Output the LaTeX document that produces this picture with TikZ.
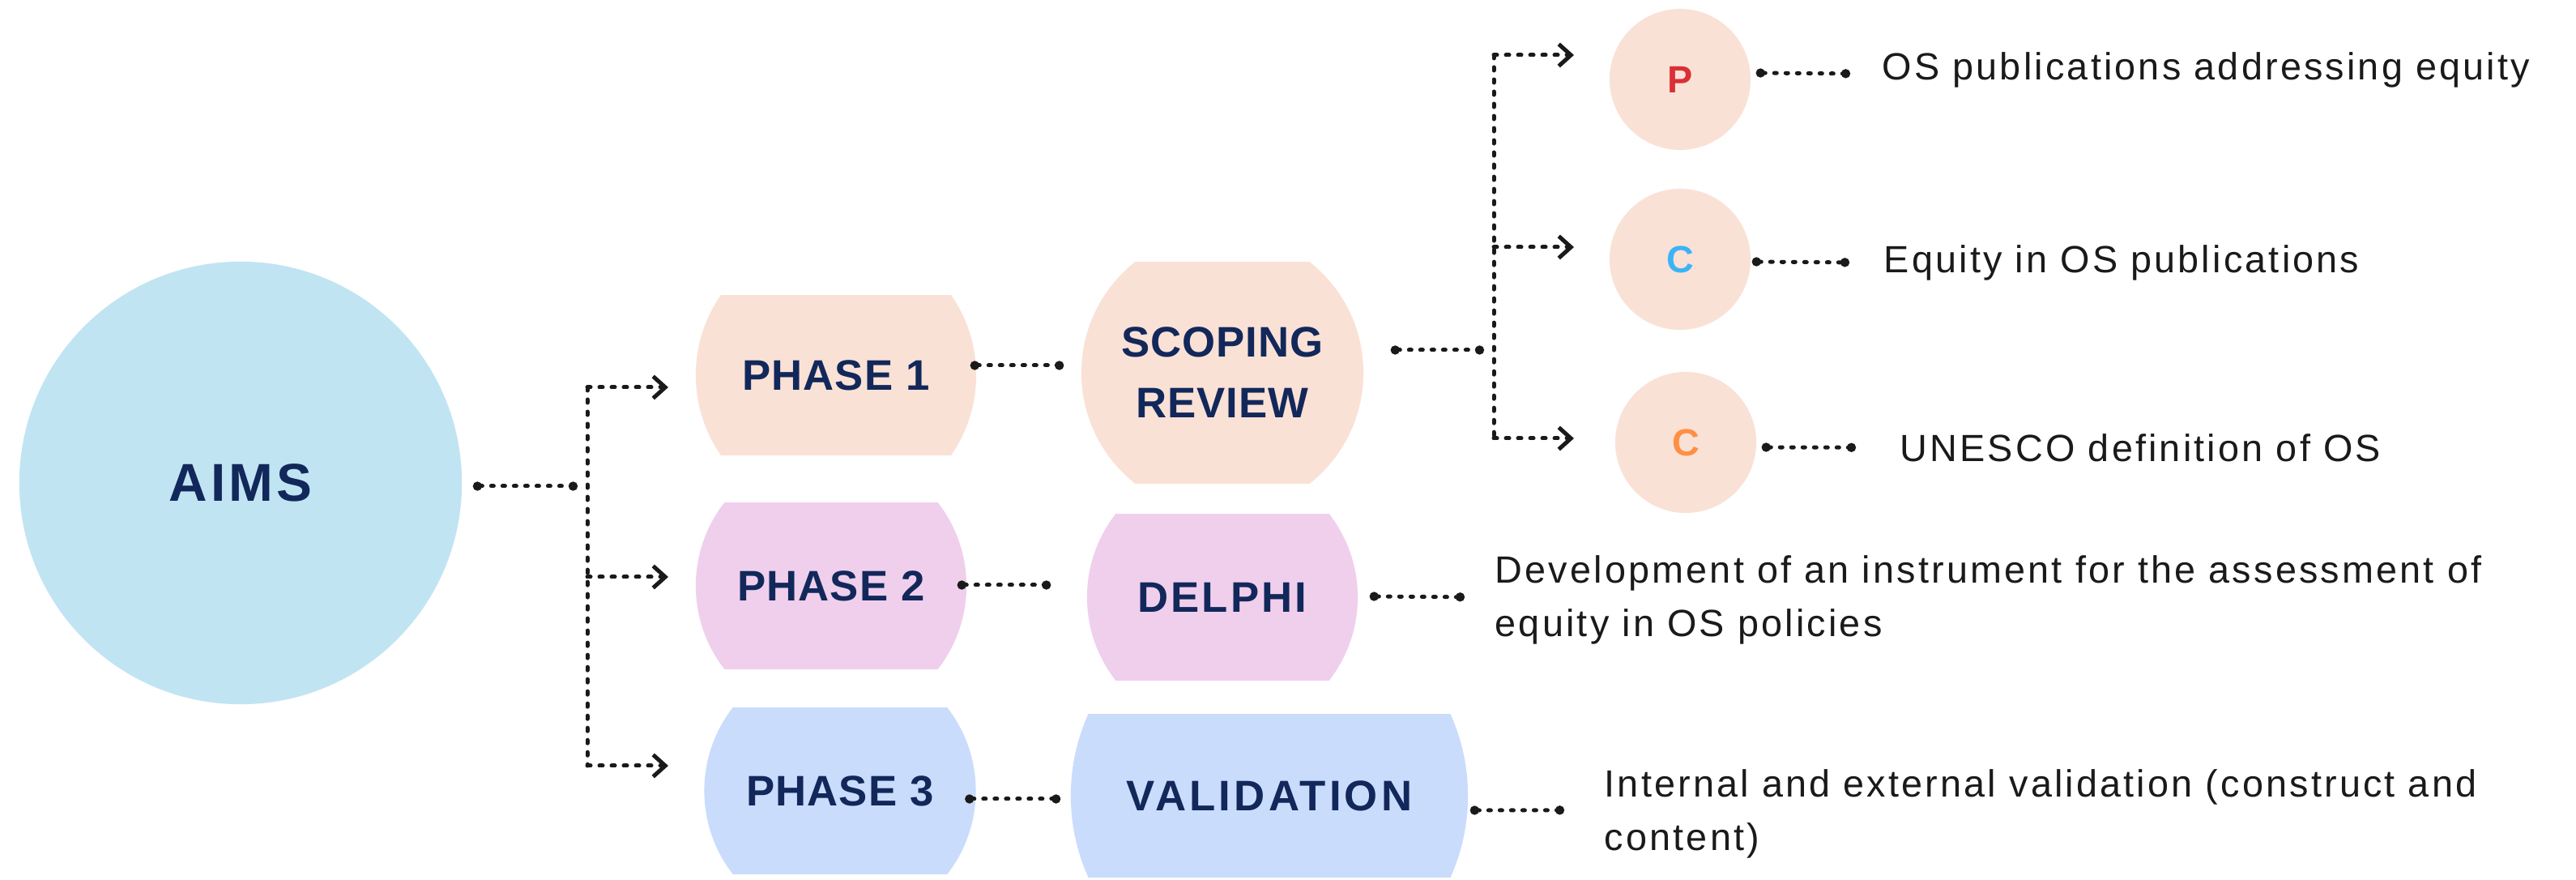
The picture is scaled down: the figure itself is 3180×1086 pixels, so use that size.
\documentclass[tikz,border=0pt]{standalone}
\usepackage{fontspec}
\setmainfont{Liberation Sans}
\newfontfamily\bodyfont[LetterSpace=6.8]{Liberation Sans}
\newfontfamily\labelfont[LetterSpace=2]{Liberation Sans}
\newfontfamily\widelabelfont[LetterSpace=6]{Liberation Sans}
\newfontfamily\widerlabelfont[LetterSpace=8]{Liberation Sans}
\usetikzlibrary{arrows.meta,calc}

\definecolor{navy}{HTML}{12285A}
\definecolor{aimsblue}{HTML}{C1E4F3}
\definecolor{peach}{HTML}{FAE1D6}
\definecolor{lilac}{HTML}{F0CFED}
\definecolor{periwinkle}{HTML}{CADCFC}
\definecolor{pred}{HTML}{D93036}
\definecolor{cblue}{HTML}{3BB4F7}
\definecolor{corange}{HTML}{FF8F45}
\definecolor{ink}{HTML}{1A1A1A}

\tikzset{
  barrel/.style={rectangle, inner sep=0pt, text=navy, align=center,
    font=\labelfont\fontsize{15}{21.3}\selectfont\bfseries,
    path picture={\fill[#1] let \p1=(path picture bounding box.east),
      \p2=(path picture bounding box.center) in (\p2) circle ({\x1-\x2});}},
  bubble/.style={circle, fill=peach, minimum size=1.74cm, inner sep=0pt,
    font=\fontsize{13.3}{16}\selectfont\bfseries, text=#1},
  note/.style={anchor=base west, inner sep=0pt, align=left, text=ink,
    font=\bodyfont\fontsize{13.3}{18.8}\selectfont},
  link/.style={ink, line width=0.05cm, line cap=round,
    dash pattern=on 0.03cm off 0.11cm,
    {Circle[length=0.11cm]}-{Circle[length=0.11cm]}},
  trunk/.style={ink, line width=0.05cm, line cap=round,
    dash pattern=on 0.04cm off 0.11cm},
  branch/.style={trunk, -{Straight Barb[length=0.15cm,width=0.27cm]}},
}

\begin{document}
\begin{tikzpicture}[x=0.01cm, y=-0.01cm]
  \fill[white] (0,0) rectangle (3180,1086);
  \useasboundingbox (0,0) rectangle (3180,1086);

  % aim and phases
  \node[circle, fill=aimsblue, minimum size=5.46cm, text=navy,
        font=\widelabelfont\fontsize{18.7}{22}\selectfont\bfseries] (aims) at (297,596) {AIMS};

  \node[barrel=peach, minimum width=3.46cm, minimum height=1.97cm] (ph1) at (1032,463) {PHASE 1};
  \node[barrel=lilac, minimum width=3.34cm, minimum height=2.05cm] (ph2) at (1026,723) {PHASE 2};
  \node[barrel=periwinkle, minimum width=3.35cm, minimum height=2.05cm] (ph3) at (1037,976) {PHASE 3};

  \node[barrel=peach, minimum width=3.48cm, minimum height=2.72cm] (scoping) at (1509,460) {SCOPING\\REVIEW};
  \node[barrel=lilac, minimum width=3.34cm, minimum height=2.05cm,
        font=\widelabelfont\fontsize{15}{21.3}\selectfont\bfseries] (delphi) at (1509,737) {DELPHI};
  \node[barrel=periwinkle, minimum width=4.90cm, minimum height=2.00cm,
        font=\widerlabelfont\fontsize{15}{21.3}\selectfont\bfseries] (valid) at (1567,982) {VALIDATION};

  % review components
  \node[bubble=pred] (pub) at (2074,98) {P};
  \node[bubble=cblue] (con) at (2074,320) {C};
  \node[bubble=corange] (ctx) at (2081,546) {C};

  % outcomes (multi-line notes sit on the baseline of their last line)
  \node[note] (pubtxt) at (2323,99) {OS publications addressing equity};
  \node[note] (contxt) at (2325,337) {Equity in OS publications};
  \node[note] (ctxtxt) at (2345,570) {UNESCO definition of OS};
  \node[note] (deltxt) at (1845,786) {Development of an instrument for the assessment of\\equity in OS policies};
  \node[note] (valtxt) at (1980,1050) {Internal and external validation (construct and\\content)};

  % forks
  \coordinate (fork1) at (713,600);
  \coordinate (fork1top) at (725,478);
  \coordinate (fork1bot) at (725,945);
  \coordinate (to1) at (825,478);
  \coordinate (to2) at (825,712);
  \coordinate (to3) at (825,945);

  \coordinate (fork2) at (1832,432);
  \coordinate (fork2top) at (1844,68);
  \coordinate (fork2bot) at (1844,541);
  \coordinate (to4) at (1943,68);
  \coordinate (to5) at (1943,305);
  \coordinate (to6) at (1943,541);

  \draw[link] ([shift={(13,4)}]aims.east) -- (fork1);
  \draw[trunk] (fork1top) -- (fork1bot);
  \foreach \t in {to1,to2,to3}
    \draw[branch] (fork1top |- \t) -- (\t);

  \draw[link] ([shift={(33,-28)}]scoping.east) -- (fork2);
  \draw[trunk] (fork2top) -- (fork2bot);
  \foreach \t in {to4,to5,to6}
    \draw[branch] (fork2top |- \t) -- (\t);

  % dotted links
  \draw[link] ([shift={(-8,-12)}]ph1.east) -- ([shift={(-21,-9)}]scoping.west);
  \draw[link] ([shift={(-12,-1)}]ph2.east) -- ([shift={(-44,-15)}]delphi.west);
  \draw[link] ([shift={(-14,10)}]ph3.east) -- ([shift={(-12,4)}]valid.west);

  \draw[link] ([shift={(6,-8)}]pub.east) -- ([shift={(-39,4)}]pubtxt.west);
  \draw[link] ([shift={(1,3)}]con.east) -- ([shift={(-42,-1)}]contxt.west);
  \draw[link] ([shift={(6,6)}]ctx.east) -- ([shift={(-54,-1)}]ctxtxt.west);
  \draw[link] ([shift={(14,-1)}]delphi.east) -- ([shift={(-37,-4)}]deltxt.west);
  \draw[link] ([shift={(2,18)}]valid.east) -- ([shift={(-49,-5)}]valtxt.west);
\end{tikzpicture}
\end{document}
